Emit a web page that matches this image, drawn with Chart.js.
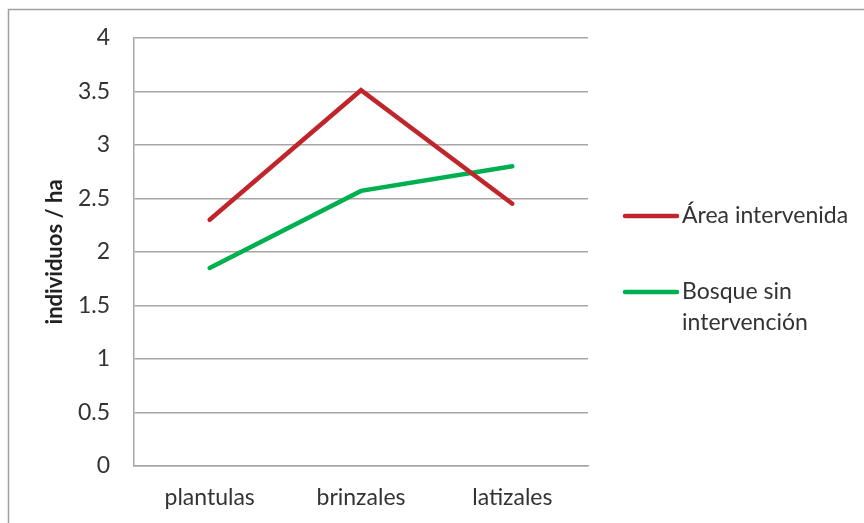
<!DOCTYPE html>
<html>
<head>
<meta charset="utf-8">
<script src="https://cdn.jsdelivr.net/npm/chart.js@4.4.1/dist/chart.umd.min.js"></script>
<style>
  html, body { margin: 0; padding: 0; background: #ffffff; }
  #wrap { width: 864px; height: 523px; position: relative; }
</style>
</head>
<body>
<div id="wrap"><canvas id="chart" width="864" height="523"></canvas></div>
<script>
// Data: regeneration density by size class
const categories = ['plantulas', 'brinzales', 'latizales'];
const seriesNames = [['Área intervenida'], ['Bosque sin', 'intervención']];
const areaIntervenida = [2.30, 3.51, 2.45];
const bosqueSinIntervencion = [1.85, 2.57, 2.80];
const yTicks = [0, 0.5, 1, 1.5, 2, 2.5, 3, 3.5, 4];
const yTickLabels = ['0', '0.5', '1', '1.5', '2', '2.5', '3', '3.5', '4'];
const yTitle = 'individuos / ha';

const FONT = 'Lato, "Open Sans", sans-serif';
const TEXT = '#333333';
const GRID = '#A6A6A6';

// Frame around the chart (top and left edges)
const framePlugin = {
  id: 'frame',
  beforeDraw(chart) {
    const ctx = chart.ctx;
    ctx.save();
    ctx.strokeStyle = '#A0A0A0';
    ctx.lineWidth = 1.5;
    ctx.beginPath();
    ctx.moveTo(8.5, chart.height);
    ctx.lineTo(8.5, 9.5);
    ctx.lineTo(chart.width, 9.5);
    ctx.stroke();
    ctx.restore();
  }
};

// Legend drawn to the right of the plot, with wrapped series names
const sideLegend = {
  id: 'sideLegend',
  afterDraw(chart) {
    const ctx = chart.ctx;
    const area = chart.chartArea;
    const x0 = area.right + 37;
    const tops = [216, 292];
    ctx.save();
    chart.data.datasets.forEach((ds, i) => {
      const y = tops[i];
      ctx.strokeStyle = ds.borderColor;
      ctx.lineWidth = 4.5;
      ctx.lineCap = 'round';
      ctx.beginPath();
      ctx.moveTo(x0, y);
      ctx.lineTo(x0 + 52, y);
      ctx.stroke();
      ctx.fillStyle = TEXT;
      ctx.font = '23px ' + FONT;
      ctx.textAlign = 'left';
      ctx.textBaseline = 'middle';
      seriesNames[i].forEach((line, j) => {
        ctx.fillText(line, x0 + 57, y + j * 31);
      });
    });
    ctx.restore();
  }
};

new Chart(document.getElementById('chart'), {
  type: 'line',
  data: {
    labels: categories,
    datasets: [
      {
        label: seriesNames[0].join(' '),
        data: areaIntervenida,
        borderColor: '#C0252C',
        backgroundColor: '#C0252C',
        borderWidth: 4.5,
        borderCapStyle: 'round',
        borderJoinStyle: 'miter',
        pointRadius: 0,
        tension: 0
      },
      {
        label: seriesNames[1].join(' '),
        data: bosqueSinIntervencion,
        borderColor: '#00B050',
        backgroundColor: '#00B050',
        borderWidth: 4.5,
        borderCapStyle: 'round',
        borderJoinStyle: 'miter',
        pointRadius: 0,
        tension: 0
      }
    ]
  },
  options: {
    responsive: false,
    animation: false,
    devicePixelRatio: 1,
    layout: { padding: { left: 0, top: 37, right: 276, bottom: 0 } },
    plugins: {
      legend: { display: false },
      tooltip: { enabled: false }
    },
    scales: {
      x: {
        offset: true,
        grid: { display: false, drawTicks: false },
        border: { display: true, color: GRID, width: 1.5 },
        ticks: { color: TEXT, font: { family: FONT, size: 23 }, padding: 18, maxRotation: 0 },
        afterFit(scale) { scale.height = 57; }
      },
      y: {
        min: 0,
        max: 4,
        afterBuildTicks(scale) { scale.ticks = yTicks.map(v => ({ value: v })); },
        grid: { color: GRID, lineWidth: 1.5, drawTicks: false },
        border: { display: true, color: GRID, width: 1.5 },
        ticks: {
          color: TEXT,
          font: { family: FONT, size: 23 },
          padding: 24,
          callback(value) {
            const i = yTicks.indexOf(value);
            return i >= 0 ? yTickLabels[i] : '';
          }
        },
        title: {
          display: true,
          text: yTitle,
          color: '#222222',
          font: { family: FONT, size: 22, weight: 'bold' },
          padding: { top: 42, bottom: 0 }
        },
        afterFit(scale) { scale.width = 134; }
      }
    }
  },
  plugins: [framePlugin, sideLegend]
});
</script>
</body>
</html>
